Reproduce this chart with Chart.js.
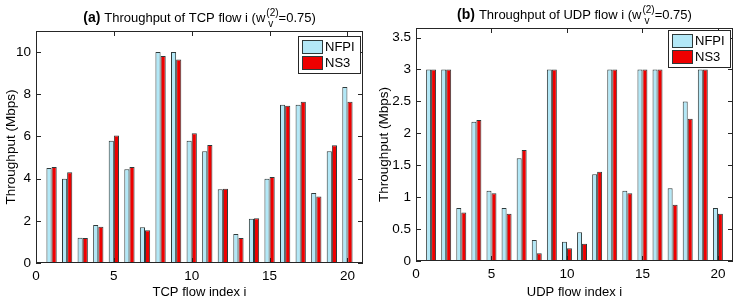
<!DOCTYPE html>
<html>
<head>
<meta charset="utf-8">
<script src="https://cdn.jsdelivr.net/npm/chart.js@4.4.1/dist/chart.umd.min.js"></script>
<style>
  html, body { margin: 0; padding: 0; background: #fff; }
  #wrap { position: relative; width: 737px; height: 304px; }
  .panel { position: absolute; top: 0; height: 304px; }
</style>
</head>
<body>
<div id="wrap">
  <div class="panel" style="left:0;width:370px"><canvas id="tcpChart"></canvas></div>
  <div class="panel" style="left:368px;width:369px"><canvas id="udpChart"></canvas></div>
</div>
<script>
// flow index 1..20
const flows = [1, 2, 3, 4, 5, 6, 7, 8, 9, 10, 11, 12, 13, 14, 15, 16, 17, 18, 19, 20];
const xTicks = [0, 5, 10, 15, 20];

// (a) TCP throughput (Mbps)
const tcpNfpi = [4.5, 4.0, 1.2, 1.8, 5.8, 4.45, 1.7, 10.0, 10.0, 5.8, 5.3, 3.5, 1.38, 2.1, 4.0, 7.5, 7.5, 3.32, 5.3, 8.35];
const tcpNs3  = [4.55, 4.3, 1.18, 1.72, 6.05, 4.55, 1.55, 9.82, 9.65, 6.15, 5.6, 3.52, 1.18, 2.12, 4.08, 7.45, 7.65, 3.15, 5.58, 7.65];
const tcpYTicks = [0, 2, 4, 6, 8, 10];

// (b) UDP throughput (Mbps)
const udpNfpi = [3, 3, 0.83, 2.18, 1.1, 0.83, 1.61, 0.33, 3, 0.3, 0.45, 1.36, 3, 1.1, 3, 3, 1.14, 2.5, 3, 0.83];
const udpNs3  = [3, 3, 0.76, 2.21, 1.06, 0.74, 1.74, 0.12, 3, 0.2, 0.27, 1.4, 3, 1.06, 3, 3, 0.88, 2.23, 3, 0.74];
const udpYTicks = [0, 0.5, 1, 1.5, 2, 2.5, 3, 3.5];

const FONT = '"Liberation Sans", Arial, Helvetica, sans-serif';
const NFPI_COLOR = '#b3e8f7';
const NS3_COLOR = '#ee0000';
const EDGE = '#2e3a3a';

// matlab-like box with inward ticks, legend in the corner, rich-text title
const matlabBox = {
    id: 'matlabBox',
    afterDatasetsDraw(chart, args, opts) {
        const { ctx, chartArea: a, scales } = chart;
        ctx.save();
        ctx.strokeStyle = '#262626';
        ctx.lineWidth = 1;
        ctx.strokeRect(a.left + 0.5, a.top + 0.5, a.right - a.left - 1, a.bottom - a.top - 1);
        ctx.beginPath();
        const tl = 5;
        scales.x.ticks.forEach(t => {
            const px = Math.round(scales.x.getPixelForValue(t.value)) + 0.5;
            ctx.moveTo(px, a.bottom); ctx.lineTo(px, a.bottom - tl);
            ctx.moveTo(px, a.top); ctx.lineTo(px, a.top + tl);
        });
        scales.y.ticks.forEach(t => {
            const py = Math.round(scales.y.getPixelForValue(t.value)) + 0.5;
            ctx.moveTo(a.left, py); ctx.lineTo(a.left + tl, py);
            ctx.moveTo(a.right, py); ctx.lineTo(a.right - tl, py);
        });
        ctx.stroke();

        // legend
        const bw = 62, bh = 37;
        const lx = a.right - bw - 3, ly = a.top + opts.legendTop;
        ctx.fillStyle = '#fff';
        ctx.fillRect(lx, ly, bw, bh);
        ctx.strokeStyle = '#262626';
        ctx.strokeRect(lx + 0.5, ly + 0.5, bw, bh);
        ctx.font = '13px ' + FONT;
        ctx.textBaseline = 'middle';
        chart.data.datasets.forEach((ds, i) => {
            const sy = ly + 4 + i * 16;
            ctx.fillStyle = ds.backgroundColor;
            ctx.fillRect(lx + 4, sy, 20, 13);
            ctx.strokeStyle = EDGE;
            ctx.strokeRect(lx + 4.5, sy + 0.5, 20, 13);
            ctx.fillStyle = '#000';
            ctx.fillText(ds.label, lx + 27, sy + 7.5);
        });

        // title
        const parts = opts.title;
        ctx.textBaseline = 'alphabetic';
        const fontOf = p => (p.bold ? 'bold 14px ' : '13px ') + FONT;
        let total = 0;
        parts.forEach(p => {
            if (p.sup) {
                ctx.font = '10px ' + FONT;
                p.w = Math.max(ctx.measureText(p.sup).width, ctx.measureText(p.sub).width) + 1;
            } else {
                ctx.font = fontOf(p);
                p.w = ctx.measureText(p.t).width;
            }
            total += p.w;
        });
        let x = (a.left + a.right) / 2 - total / 2;
        const base = a.top - 9;
        ctx.fillStyle = '#000';
        ctx.textAlign = 'left';
        parts.forEach(p => {
            if (p.sup) {
                ctx.font = '10px ' + FONT;
                ctx.fillText(p.sup, x + 1, base - 6);
                ctx.fillText(p.sub, x + 3, base + 5);
            } else {
                ctx.font = fontOf(p);
                ctx.fillText(p.t, x, base);
            }
            x += p.w;
        });
        ctx.restore();
    }
};

function makeChart(canvasId, nfpi, ns3, yTicks, yMax, xTitle, title, pad, yWidth, xHeight, yTitlePad, legendTop) {
    const ctx = document.getElementById(canvasId).getContext('2d');
    return new Chart(ctx, {
        type: 'bar',
        data: {
            datasets: [
                {
                    label: 'NFPI',
                    data: flows.map((f, i) => ({ x: f, y: nfpi[i] })),
                    backgroundColor: NFPI_COLOR,
                    borderColor: EDGE,
                    borderWidth: 1
                },
                {
                    label: 'NS3',
                    data: flows.map((f, i) => ({ x: f, y: ns3[i] })),
                    backgroundColor: NS3_COLOR,
                    borderColor: EDGE,
                    borderWidth: 1
                }
            ]
        },
        options: {
            responsive: true,
            maintainAspectRatio: false,
            animation: false,
            categoryPercentage: 0.66,
            barPercentage: 1.0,
            layout: { padding: pad },
            plugins: {
                legend: { display: false },
                tooltip: { enabled: false },
                matlabBox: { title: title, legendTop: legendTop }
            },
            scales: {
                x: {
                    type: 'linear',
                    min: 0,
                    max: 21,
                    offset: false,
                    grid: { display: false, drawTicks: false },
                    border: { display: false },
                    afterBuildTicks: s => { s.ticks = xTicks.map(v => ({ value: v })); },
                    afterFit: s => { s.height = xHeight; },
                    ticks: { color: '#000', font: { family: FONT, size: 13.5 }, padding: 5, maxRotation: 0, callback: v => String(v) },
                    title: { display: true, text: xTitle, color: '#000', font: { family: FONT, size: 13 }, padding: { top: 2 } }
                },
                y: {
                    min: 0,
                    max: yMax,
                    grid: { display: false, drawTicks: false },
                    border: { display: false },
                    afterBuildTicks: s => { s.ticks = yTicks.map(v => ({ value: v })); },
                    afterFit: s => { s.width = yWidth; },
                    ticks: { color: '#000', font: { family: FONT, size: 13.5 }, padding: 5, callback: v => String(v) },
                    title: { display: true, text: 'Throughput (Mbps)', color: '#000', font: { family: FONT, size: 13.5 }, padding: yTitlePad }
                }
            }
        },
        plugins: [matlabBox]
    });
}

makeChart('tcpChart', tcpNfpi, tcpNs3, tcpYTicks, 11, 'TCP flow index i',
    [{ t: '(a) ', bold: true }, { t: 'Throughput of TCP flow i (w' }, { sup: '(2)', sub: 'v' }, { t: '=0.75)' }],
    { top: 31, right: 7, left: 0, bottom: 0 }, 36, 41, 3, 5);

makeChart('udpChart', udpNfpi, udpNs3, udpYTicks, 3.65, 'UDP flow index i',
    [{ t: '(b) ', bold: true }, { t: 'Throughput of UDP flow i (w' }, { sup: '(2)', sub: 'v' }, { t: '=0.75)' }],
    { top: 28, right: 4, left: 0, bottom: 0 }, 48, 43, 8, 2);
</script>
</body>
</html>
